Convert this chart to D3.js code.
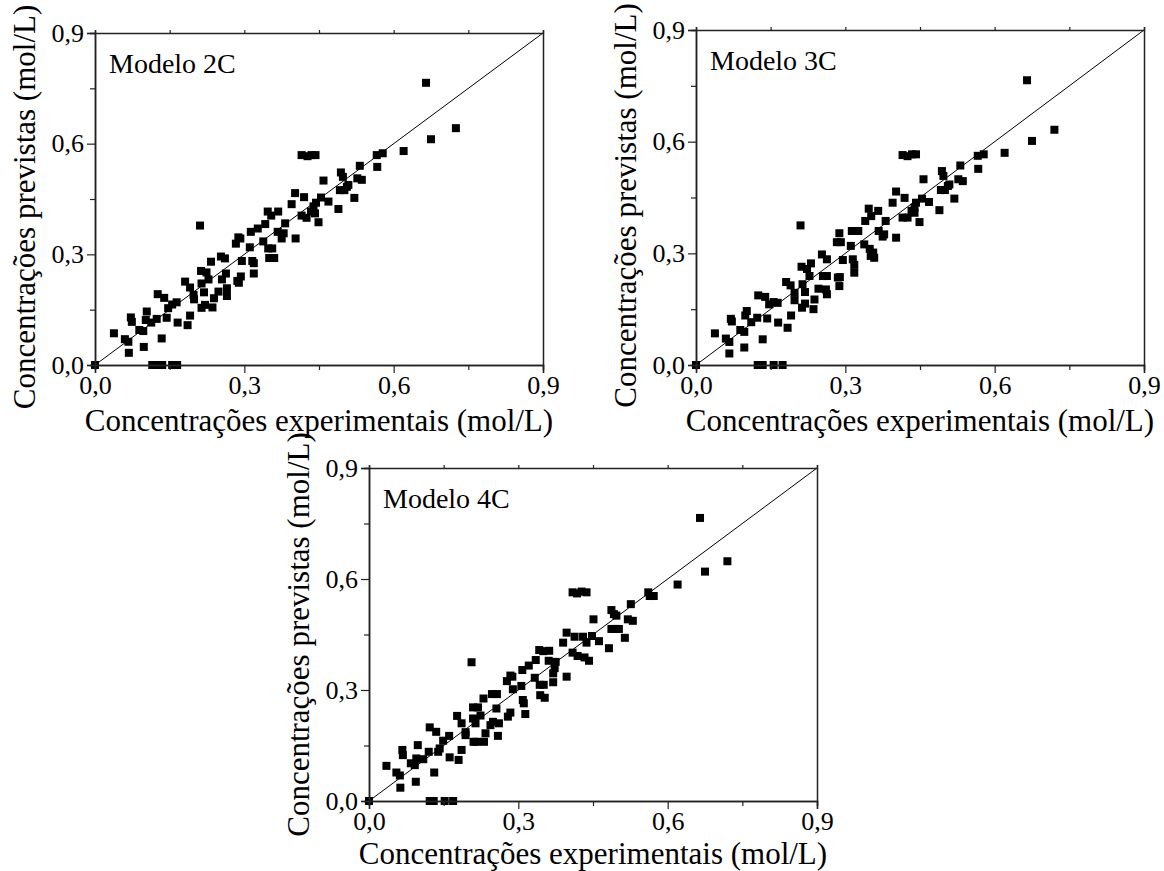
<!DOCTYPE html>
<html>
<head>
<meta charset="utf-8">
<script src="https://cdn.jsdelivr.net/npm/d3@7"></script>
<style>
  body { margin: 0; background: #fff; }
  svg text { font-family: "Liberation Serif", "Times New Roman", serif; fill: #000; }
</style>
</head>
<body>
<svg id="chart" width="1164" height="871"></svg>
<script>
// tick labels (decimal comma) and axis titles
var tickValues = [0, 0.3, 0.6, 0.9];
var minorTicks = [0.15, 0.45, 0.75];
var tickLabels = ["0,0", "0,3", "0,6", "0,9"];
var xTitle = "Concentrações experimentais (mol/L)";
var yTitle = "Concentrações previstas (mol/L)";
var panelNames = ["Modelo 2C", "Modelo 3C", "Modelo 4C"];

// Modelo 2C: experimental (x) vs predicted (y)
var exp2C = [0, 0.115, 0.125, 0.135, 0.155, 0.165, 0.038, 0.060, 0.067, 0.068, 0.072, 0.074, 0.089, 0.097, 0.098, 0.104,
  0.102, 0.113, 0.124, 0.126, 0.134, 0.139, 0.144, 0.147, 0.155, 0.164, 0.166, 0.181, 0.186, 0.191, 0.191, 0.198,
  0.199, 0.211, 0.213, 0.214, 0.214, 0.219, 0.221, 0.224, 0.228, 0.233, 0.236, 0.239, 0.248, 0.253, 0.255, 0.261,
  0.263, 0.265, 0.265, 0.283, 0.288, 0.292, 0.286, 0.289, 0.293, 0.295, 0.311, 0.313, 0.316, 0.319, 0.319, 0.327,
  0.338, 0.342, 0.347, 0.348, 0.350, 0.356, 0.360, 0.354, 0.368, 0.367, 0.375, 0.379, 0.382, 0.395, 0.402, 0.403,
  0.415, 0.420, 0.415, 0.425, 0.427, 0.435, 0.443, 0.434, 0.439, 0.442, 0.444, 0.449, 0.454, 0.459, 0.469, 0.489,
  0.494, 0.498, 0.492, 0.501, 0.506, 0.509, 0.521, 0.527, 0.532, 0.536, 0.566, 0.567, 0.578, 0.620, 0.665, 0.675, 0.725];
var pred2C = [0, 0, 0, 0, 0, 0, 0.086, 0.070, 0.063, 0.033, 0.129, 0.117, 0.095, 0.092, 0.049, 0.145,
  0.122, 0.115, 0.125, 0.192, 0.072, 0.182, 0.128, 0.154, 0.164, 0.170, 0.115, 0.226, 0.108, 0.134, 0.210, 0.190,
  0.178, 0.378, 0.255, 0.221, 0.155, 0.197, 0.163, 0.251, 0.232, 0.280, 0.156, 0.181, 0.199, 0.294, 0.232, 0.289,
  0.248, 0.208, 0.187, 0.329, 0.346, 0.343, 0.228, 0.223, 0.240, 0.282, 0.319, 0.361, 0.282, 0.276, 0.248, 0.370,
  0.335, 0.382, 0.416, 0.316, 0.290, 0.316, 0.290, 0.405, 0.416, 0.361, 0.343, 0.357, 0.384, 0.436, 0.466, 0.343,
  0.569, 0.455, 0.405, 0.399, 0.566, 0.569, 0.569, 0.416, 0.430, 0.411, 0.440, 0.387, 0.454, 0.500, 0.443, 0.423,
  0.522, 0.510, 0.474, 0.474, 0.483, 0.488, 0.453, 0.506, 0.540, 0.502, 0.569, 0.537, 0.574, 0.580, 0.765, 0.612, 0.642];

// Modelo 3C
var exp3C = [0, 0.124, 0.134, 0.156, 0.174, 0.038, 0.060, 0.067, 0.067, 0.070, 0.072, 0.089, 0.097, 0.097, 0.102, 0.099,
  0.111, 0.123, 0.125, 0.134, 0.139, 0.143, 0.147, 0.156, 0.164, 0.165, 0.181, 0.184, 0.191, 0.190, 0.198, 0.198,
  0.210, 0.212, 0.214, 0.213, 0.219, 0.219, 0.223, 0.228, 0.231, 0.236, 0.238, 0.246, 0.253, 0.255, 0.263, 0.263,
  0.261, 0.263, 0.283, 0.288, 0.291, 0.285, 0.288, 0.289, 0.295, 0.311, 0.313, 0.315, 0.318, 0.318, 0.326, 0.338,
  0.340, 0.347, 0.349, 0.351, 0.356, 0.358, 0.352, 0.366, 0.367, 0.375, 0.378, 0.381, 0.395, 0.402, 0.402, 0.415,
  0.425, 0.434, 0.442, 0.419, 0.415, 0.425, 0.433, 0.439, 0.439, 0.442, 0.449, 0.454, 0.457, 0.468, 0.489, 0.494,
  0.497, 0.492, 0.500, 0.506, 0.509, 0.519, 0.527, 0.531, 0.536, 0.566, 0.567, 0.578, 0.620, 0.665, 0.675, 0.720];
var pred3C = [0, 0, 0, 0, 0, 0.085, 0.071, 0.062, 0.031, 0.124, 0.117, 0.094, 0.089, 0.047, 0.145, 0.133,
  0.115, 0.127, 0.187, 0.069, 0.183, 0.125, 0.163, 0.169, 0.167, 0.114, 0.223, 0.100, 0.133, 0.214, 0.194, 0.174,
  0.375, 0.264, 0.217, 0.154, 0.196, 0.165, 0.258, 0.239, 0.273, 0.150, 0.176, 0.205, 0.297, 0.239, 0.284, 0.239,
  0.203, 0.190, 0.330, 0.354, 0.330, 0.235, 0.212, 0.236, 0.282, 0.320, 0.360, 0.284, 0.269, 0.248, 0.360, 0.324,
  0.387, 0.420, 0.312, 0.293, 0.302, 0.288, 0.400, 0.414, 0.360, 0.345, 0.351, 0.387, 0.436, 0.466, 0.342, 0.564,
  0.561, 0.566, 0.566, 0.449, 0.396, 0.396, 0.414, 0.423, 0.409, 0.436, 0.384, 0.447, 0.499, 0.438, 0.416, 0.521,
  0.508, 0.470, 0.470, 0.481, 0.485, 0.447, 0.499, 0.536, 0.494, 0.562, 0.527, 0.566, 0.570, 0.765, 0.602, 0.632];

// Modelo 4C
var exp4C = [0, 0.122, 0.130, 0.152, 0.169, 0.035, 0.055, 0.062, 0.063, 0.067, 0.068, 0.084, 0.092, 0.094, 0.098, 0.095,
  0.109, 0.120, 0.122, 0.131, 0.135, 0.139, 0.142, 0.149, 0.161, 0.162, 0.177, 0.180, 0.186, 0.186, 0.194, 0.194,
  0.206, 0.209, 0.209, 0.210, 0.214, 0.216, 0.219, 0.224, 0.230, 0.231, 0.234, 0.244, 0.247, 0.257, 0.256, 0.249,
  0.259, 0.261, 0.277, 0.284, 0.288, 0.279, 0.284, 0.289, 0.306, 0.308, 0.309, 0.311, 0.314, 0.321, 0.333, 0.335,
  0.342, 0.343, 0.351, 0.344, 0.353, 0.350, 0.362, 0.361, 0.370, 0.370, 0.375, 0.373, 0.390, 0.397, 0.397, 0.409,
  0.418, 0.427, 0.437, 0.413, 0.409, 0.419, 0.430, 0.433, 0.437, 0.442, 0.448, 0.451, 0.462, 0.482, 0.487, 0.492,
  0.487, 0.497, 0.494, 0.502, 0.514, 0.520, 0.526, 0.530, 0.561, 0.564, 0.572, 0.620, 0.665, 0.675, 0.720];
var pred4C = [0, 0, 0, 0, 0, 0.095, 0.077, 0.069, 0.036, 0.138, 0.124, 0.102, 0.097, 0.052, 0.151, 0.115,
  0.113, 0.133, 0.199, 0.077, 0.187, 0.133, 0.142, 0.163, 0.176, 0.118, 0.230, 0.111, 0.138, 0.210, 0.186, 0.178,
  0.375, 0.253, 0.223, 0.160, 0.210, 0.160, 0.253, 0.231, 0.277, 0.160, 0.183, 0.205, 0.289, 0.289, 0.250, 0.214,
  0.176, 0.210, 0.324, 0.339, 0.336, 0.228, 0.239, 0.302, 0.311, 0.354, 0.273, 0.264, 0.235, 0.366, 0.333, 0.381,
  0.408, 0.314, 0.314, 0.286, 0.279, 0.405, 0.406, 0.379, 0.321, 0.345, 0.376, 0.359, 0.428, 0.455, 0.336, 0.564,
  0.561, 0.566, 0.564, 0.444, 0.401, 0.392, 0.444, 0.388, 0.428, 0.379, 0.446, 0.491, 0.432, 0.413, 0.516, 0.505,
  0.465, 0.501, 0.465, 0.465, 0.441, 0.491, 0.532, 0.487, 0.564, 0.554, 0.554, 0.585, 0.765, 0.620, 0.648];

var panels = [
  { name: panelNames[0], xs: exp2C, ys: pred2C, left: 95, top: 33, w: 448, h: 332, yShift: 8, xTitleDy: 66 },
  { name: panelNames[1], xs: exp3C, ys: pred3C, left: 696, top: 30, w: 448, h: 335, yShift: 8, xTitleDy: 66 },
  { name: panelNames[2], xs: exp4C, ys: pred4C, left: 369, top: 468, w: 448, h: 333, yShift: 0, xTitleDy: 63 }
];

var svg = d3.select("#chart");

function drawPanel(p) {
  var x = d3.scaleLinear().domain([0, 0.9]).range([0, p.w]);
  var y = d3.scaleLinear().domain([0, 0.9]).range([p.h, 0]);

  var g = svg.append("g")
    .attr("transform", "translate(" + p.left + "," + p.top + ")");

  // diagonal y = x
  g.append("line")
    .attr("x1", x(0)).attr("y1", y(0))
    .attr("x2", x(0.9)).attr("y2", y(0.9))
    .attr("stroke", "#000")
    .attr("stroke-width", 1);

  // points
  var s = 8;
  g.selectAll("rect.pt")
    .data(d3.range(p.xs.length))
    .enter().append("rect")
    .attr("class", "pt")
    .attr("x", function(i) { return x(p.xs[i]) - s / 2; })
    .attr("y", function(i) { return y(p.ys[i]) - s / 2; })
    .attr("width", s).attr("height", s)
    .attr("fill", "#000");

  // axes: major ticks with labels, minor ticks without
  var fmt = function(d) { return tickLabels[tickValues.indexOf(d)]; };

  g.append("g").attr("transform", "translate(0," + p.h + ")")
    .call(d3.axisBottom(x).tickValues(tickValues).tickFormat(fmt).tickSize(8).tickPadding(3));
  g.append("g").attr("transform", "translate(0," + p.h + ")")
    .call(d3.axisBottom(x).tickValues(minorTicks).tickFormat("").tickSize(5));

  g.append("g")
    .call(d3.axisLeft(y).tickValues(tickValues).tickFormat(fmt).tickSize(8).tickPadding(3));
  g.append("g")
    .call(d3.axisLeft(y).tickValues(minorTicks).tickFormat("").tickSize(5));

  // top and right frame
  g.append("g")
    .call(d3.axisTop(x).tickValues(tickValues.concat(minorTicks)).tickFormat("").tickSize(3));
  g.append("g").attr("transform", "translate(" + p.w + ",0)")
    .call(d3.axisRight(y).tickValues([]).tickSize(0));

  g.selectAll(".domain").attr("stroke", "#222").attr("stroke-width", 1.5);
  g.selectAll(".tick line").attr("stroke", "#222").attr("stroke-width", 1.2);
  g.selectAll(".tick text")
    .style("font-family", "'Liberation Serif', 'Times New Roman', serif")
    .style("font-size", "26px")
    .attr("fill", "#000");

  // panel label
  g.append("text")
    .attr("x", 14).attr("y", 40)
    .style("font-size", "28px")
    .text(p.name);

  // axis titles
  g.append("text")
    .attr("x", p.w / 2).attr("y", p.h + p.xTitleDy)
    .attr("text-anchor", "middle")
    .style("font-size", "31px")
    .text(xTitle);

  g.append("text")
    .attr("transform", "translate(-60," + (p.h / 2 + p.yShift) + ") rotate(-90)")
    .attr("text-anchor", "middle")
    .style("font-size", "31px")
    .text(yTitle);
}

panels.forEach(drawPanel);
</script>
</body>
</html>
